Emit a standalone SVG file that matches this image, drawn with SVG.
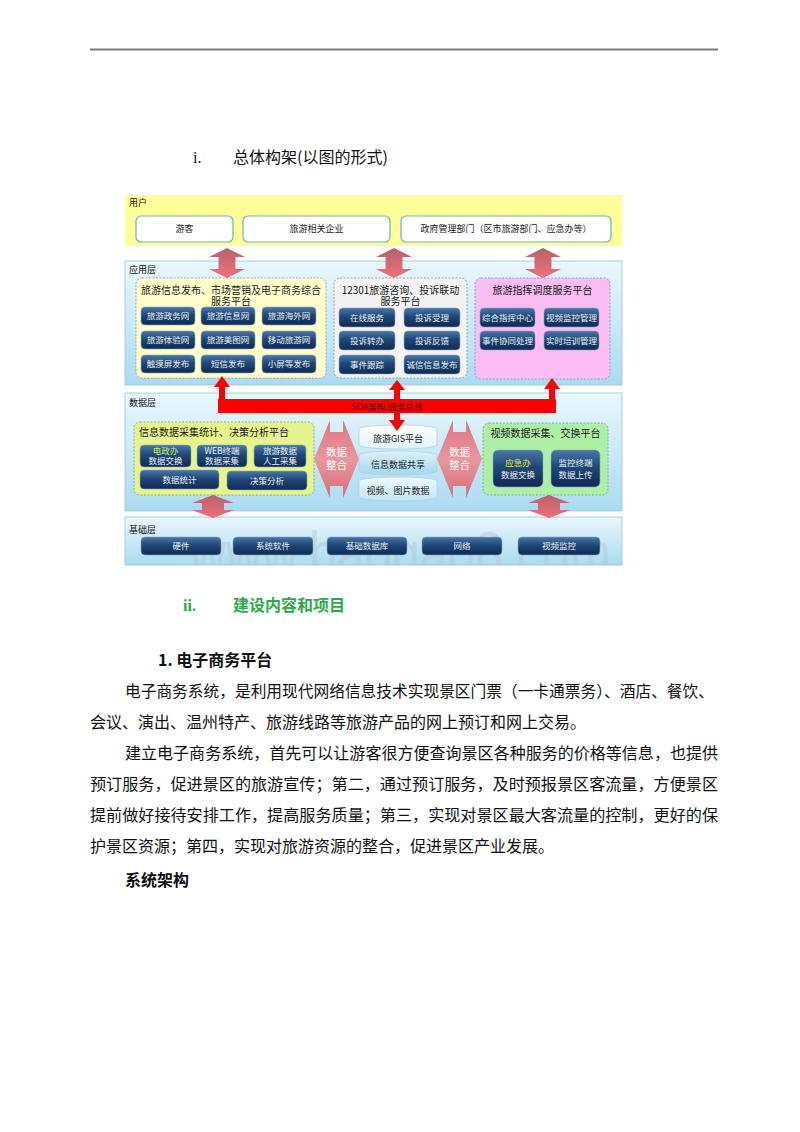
<svg xmlns="http://www.w3.org/2000/svg" width="800" height="1132" viewBox="0 0 800 1132">
<defs>
<style>
.cjk{font-family:"Noto Sans CJK SC","Noto Sans",sans-serif}
.lbl{font-family:"Noto Sans CJK SC",sans-serif;font-size:9px;fill:#111}
.ut{font-family:"Noto Sans CJK SC",sans-serif;font-size:9px;fill:#222;text-anchor:middle}
.pt{font-family:"Noto Sans CJK SC",sans-serif;font-size:10px;fill:#1a1a1a;text-anchor:middle}
.b{fill:url(#gBtn);stroke:#8fa6bf;stroke-width:0.6}
.bt{font-family:"Noto Sans CJK SC",sans-serif;font-size:8.5px;fill:#e9eef4;text-anchor:middle}
.band{fill:url(#gBand);stroke:#9cc3d6;stroke-width:0.8}
.ubox{fill:#ffffff;stroke:#6fb2b8;stroke-width:1.2}
.pan{stroke:#7f98b0;stroke-width:0.8;stroke-dasharray:2 1.5}
.body{font-family:"Noto Sans CJK SC",sans-serif;font-size:16px;fill:#111}
.cyl{stroke:#a9d2e4;stroke-width:0.8}
.ht{font-family:"Noto Sans CJK SC",sans-serif;font-size:10.5px;fill:#ffffff;text-anchor:middle}
.ct{font-family:"Noto Sans CJK SC",sans-serif;font-size:9px;fill:#222;text-anchor:middle}
</style>
<linearGradient id="gBand" x1="0" y1="0" x2="0" y2="1"><stop offset="0" stop-color="#eaf7fd"/><stop offset="1" stop-color="#aadbf1"/></linearGradient>
<linearGradient id="gBtn" x1="0" y1="0" x2="0" y2="1"><stop offset="0" stop-color="#4a77a6"/><stop offset="0.45" stop-color="#1f4878"/><stop offset="1" stop-color="#0e2a52"/></linearGradient>
<linearGradient id="gArr" x1="0" y1="0" x2="0" y2="1"><stop offset="0" stop-color="#b3646c"/><stop offset="1" stop-color="#f2707a"/></linearGradient>
<linearGradient id="gHArr" x1="0" y1="0" x2="0" y2="1"><stop offset="0" stop-color="#df7480"/><stop offset="0.5" stop-color="#e9969d"/><stop offset="1" stop-color="#d96c78"/></linearGradient>
<linearGradient id="gC1" x1="0" y1="0" x2="0" y2="1"><stop offset="0" stop-color="#ffffff"/><stop offset="1" stop-color="#e2f2f9"/></linearGradient>
<linearGradient id="gC2" x1="0" y1="0" x2="0" y2="1"><stop offset="0" stop-color="#dcf2fb"/><stop offset="1" stop-color="#a3d8ef"/></linearGradient>
<linearGradient id="gC3" x1="0" y1="0" x2="0" y2="1"><stop offset="0" stop-color="#eef9fd"/><stop offset="1" stop-color="#c2e6f5"/></linearGradient>
<path id="dv" d="M0,0 L18,9 L8.5,9 L8.5,21 L18,21 L0,30 L-18,21 L-8.5,21 L-8.5,9 L-18,9 Z"/>
<path id="dv2" d="M0,0 L21,8 L11,8 L11,15 L21,15 L0,23 L-21,15 L-11,15 L-11,8 L-21,8 Z"/>
<path id="dh" d="M0,39 L16,0 L16,12 L29,12 L29,0 L45,39 L29,78 L29,66 L16,66 L16,78 Z"/>
<clipPath id="clipBase"><rect x="125" y="517" width="497" height="48"/></clipPath>
</defs>

<rect width="800" height="1132" fill="#ffffff"/>
<line x1="90" y1="49.5" x2="718" y2="49.5" stroke="#7a7a7a" stroke-width="2"/>

<text x="193" y="163" font-family="Liberation Serif,serif" font-size="16" fill="#111">i.</text>
<text x="233" y="163" class="cjk" font-size="16" fill="#111">总体构架(以图的形式)</text>

<!-- layers -->
<g id="layer-user">
<rect x="125" y="195" width="497" height="51" fill="#ffff99"/>
<text x="129" y="206" class="lbl">用户</text>
</g>
<g id="layer-app">
<rect x="125" y="261" width="497" height="124" class="band"/>
<text x="129" y="273" class="lbl">应用层</text>
</g>
<g id="layer-data">
<rect x="125" y="393" width="497" height="118" class="band"/>
<text x="129" y="406" class="lbl">数据层</text>
</g>
<g id="layer-base">
<rect x="125" y="517" width="497" height="48" class="band"/>
<text x="129" y="533" class="lbl">基础层</text>
<text x="190" y="574" font-family="Liberation Sans,sans-serif" font-size="62" fill="#b8c4cc" fill-opacity="0.45" textLength="421" lengthAdjust="spacingAndGlyphs" clip-path="url(#clipBase)">www.baogao8.com</text>
</g>

<!-- user nodes -->
<g id="user-tourist"><rect x="136" y="216" width="97" height="26" rx="5" class="ubox"/><text x="184.5" y="232" class="ut">游客</text></g>
<g id="user-enterprise"><rect x="243" y="216" width="147" height="26" rx="5" class="ubox"/><text x="316.5" y="232" class="ut">旅游相关企业</text></g>
<g id="user-gov"><rect x="401" y="216" width="210" height="26" rx="5" class="ubox"/><text x="506" y="232" class="ut">政府管理部门（区市旅游部门、应急办等）</text></g>

<!-- app panels -->
<g id="app-ecommerce">
<rect x="136" y="278" width="190" height="100" rx="6" fill="#ffffcc" class="pan"/>
<text x="231" y="294" class="pt">旅游信息发布、市场营销及电子商务综合</text>
<text x="231" y="305" class="pt">服务平台</text>
<rect x="141" y="307" width="54" height="18" rx="4" class="b"/><text x="168" y="319" class="bt">旅游政务网</text>
<rect x="201" y="307" width="54" height="18" rx="4" class="b"/><text x="228" y="319" class="bt">旅游信息网</text>
<rect x="262" y="307" width="54" height="18" rx="4" class="b"/><text x="289" y="319" class="bt">旅游海外网</text>
<rect x="141" y="331" width="54" height="18" rx="4" class="b"/><text x="168" y="343" class="bt">旅游体验网</text>
<rect x="201" y="331" width="54" height="18" rx="4" class="b"/><text x="228" y="343" class="bt">旅游美图网</text>
<rect x="262" y="331" width="54" height="18" rx="4" class="b"/><text x="289" y="343" class="bt">移动旅游网</text>
<rect x="141" y="355" width="54" height="18" rx="4" class="b"/><text x="168" y="367" class="bt">触摸屏发布</text>
<rect x="201" y="355" width="54" height="18" rx="4" class="b"/><text x="228" y="367" class="bt">短信发布</text>
<rect x="262" y="355" width="54" height="18" rx="4" class="b"/><text x="289" y="367" class="bt">小屏等发布</text>
</g>

<g id="app-12301">
<rect x="334" y="278" width="133" height="100" rx="6" fill="#f3f3f3" class="pan"/>
<text x="400.5" y="294" class="pt">12301旅游咨询、投诉联动</text>
<text x="400.5" y="305" class="pt">服务平台</text>
<rect x="339" y="308" width="56" height="19" rx="4" class="b"/><text x="367" y="320.5" class="bt">在线服务</text>
<rect x="404" y="308" width="56" height="19" rx="4" class="b"/><text x="432" y="320.5" class="bt">投诉受理</text>
<rect x="339" y="331" width="56" height="19" rx="4" class="b"/><text x="367" y="343.5" class="bt">投诉转办</text>
<rect x="404" y="331" width="56" height="19" rx="4" class="b"/><text x="432" y="343.5" class="bt">投诉反馈</text>
<rect x="339" y="355" width="56" height="19" rx="4" class="b"/><text x="367" y="367.5" class="bt">事件跟踪</text>
<rect x="404" y="355" width="56" height="19" rx="4" class="b"/><text x="432" y="367.5" class="bt">诚信信息发布</text>
</g>

<g id="app-command">
<rect x="475" y="278" width="135" height="101" rx="6" fill="#fbbdf3" class="pan"/>
<text x="542.5" y="294" class="pt">旅游指挥调度服务平台</text>
<rect x="480" y="308" width="55" height="19" rx="4" class="b"/><text x="507.5" y="320.5" class="bt">综合指挥中心</text>
<rect x="544" y="308" width="55" height="19" rx="4" class="b"/><text x="571.5" y="320.5" class="bt">视频监控管理</text>
<rect x="480" y="331" width="55" height="19" rx="4" class="b"/><text x="507.5" y="343.5" class="bt">事件协同处理</text>
<rect x="544" y="331" width="55" height="19" rx="4" class="b"/><text x="571.5" y="343.5" class="bt">实时培训管理</text>
</g>

<!-- data panels -->
<g id="data-analysis">
<rect x="134" y="422" width="180" height="73" rx="6" fill="#e6f48c" class="pan"/>
<text x="214" y="436" class="pt">信息数据采集统计、决策分析平台</text>
<rect x="140" y="445" width="51" height="22" rx="4" class="b"/><text x="165.5" y="454" class="bt" style="fill:#c9e87a">电政办</text><text x="165.5" y="464" class="bt">数据交换</text>
<rect x="197" y="445" width="50" height="22" rx="4" class="b"/><text x="222" y="454" class="bt">WEB终端</text><text x="222" y="464" class="bt">数据采集</text>
<rect x="254" y="445" width="52" height="22" rx="4" class="b"/><text x="280" y="454" class="bt">旅游数据</text><text x="280" y="464" class="bt">人工采集</text>
<rect x="140" y="470" width="79" height="19" rx="4" class="b"/><text x="179.5" y="482.5" class="bt">数据统计</text>
<rect x="227" y="471" width="80" height="19" rx="4" class="b"/><text x="267" y="483.5" class="bt">决策分析</text>
</g>

<g id="data-merge-left">
<use href="#dh" x="314" y="420" fill="url(#gHArr)"/>
<text x="336.5" y="456" class="ht">数据</text>
<text x="336.5" y="469" class="ht">整合</text>
</g>

<g id="data-gis">
<path d="M359,429 A39,4 0 0 1 437,429 L437,445 A39,4 0 0 1 359,445 Z" fill="url(#gC1)" class="cyl"/>
<text x="398" y="442" class="ct">旅游GIS平台</text>
</g>
<g id="data-share">
<path d="M359,455 A39,4 0 0 1 437,455 L437,471 A39,4 0 0 1 359,471 Z" fill="url(#gC2)" class="cyl"/>
<text x="398" y="468" class="ct">信息数据共享</text>
</g>
<g id="data-media">
<path d="M359,481 A39,4 0 0 1 437,481 L437,497 A39,4 0 0 1 359,497 Z" fill="url(#gC3)" class="cyl"/>
<text x="398" y="494" class="ct">视频、图片数据</text>
</g>

<g id="data-merge-right">
<use href="#dh" x="437" y="420" fill="url(#gHArr)"/>
<text x="459.5" y="456" class="ht">数据</text>
<text x="459.5" y="469" class="ht">整合</text>
</g>

<g id="data-video">
<rect x="483" y="423" width="125" height="72" rx="6" fill="#aeefa6" class="pan"/>
<text x="545.5" y="437" class="pt">视频数据采集、交换平台</text>
<rect x="493" y="450" width="50" height="37" rx="5" class="b"/><text x="518" y="466" class="bt" style="fill:#f2e640">应急办</text><text x="518" y="478" class="bt">数据交换</text>
<rect x="551" y="450" width="49" height="37" rx="5" class="b"/><text x="575.5" y="466" class="bt">监控终端</text><text x="575.5" y="478" class="bt">数据上传</text>
</g>

<!-- base nodes -->
<g id="base-hw"><rect x="141" y="537" width="80" height="18" rx="4" class="b"/><text x="181" y="549" class="bt">硬件</text></g>
<g id="base-sw"><rect x="233" y="537" width="80" height="18" rx="4" class="b"/><text x="273" y="549" class="bt">系统软件</text></g>
<g id="base-db"><rect x="327" y="537" width="80" height="18" rx="4" class="b"/><text x="367" y="549" class="bt">基础数据库</text></g>
<g id="base-net"><rect x="422" y="537" width="80" height="18" rx="4" class="b"/><text x="462" y="549" class="bt">网络</text></g>
<g id="base-video"><rect x="518" y="537" width="82" height="18" rx="4" class="b"/><text x="559" y="549" class="bt">视频监控</text></g>

<!-- connectors -->
<g id="connectors">
<use href="#dv" x="227" y="248" fill="url(#gArr)"/>
<use href="#dv" x="394" y="248" fill="url(#gArr)"/>
<use href="#dv" x="543" y="248" fill="url(#gArr)"/>
<use href="#dv2" x="213" y="495" fill="url(#gArr)"/>
<use href="#dv2" x="549" y="495" fill="url(#gArr)"/>
<g id="soa-bus" fill="#ff0000">
<rect x="218" y="399" width="338" height="14"/>
<rect x="219" y="385" width="6" height="16"/>
<polygon points="222,376 230,387 214,387"/>
<rect x="394" y="388" width="6" height="12"/>
<polygon points="397,380 405,390 389,390"/>
<rect x="394" y="412" width="6" height="9"/>
<polygon points="397,431 405,420 389,420"/>
<rect x="549" y="386" width="6" height="15"/>
<polygon points="552,378 560,389 544,389"/>
</g>
<text x="387" y="409.5" class="cjk" font-size="8.5" fill="#4a0808" text-anchor="middle">SOA架构/服务总线</text>
</g>

<!-- text below -->
<text x="183" y="611" font-family="Liberation Serif,serif" font-size="16" font-weight="bold" fill="#2ea94b">ii.</text>
<text x="233" y="611" class="cjk" font-size="16" font-weight="bold" fill="#2ea94b">建设内容和项目</text>
<text x="158" y="666" class="cjk" font-size="16" font-weight="bold" fill="#111">1. 电子商务平台</text>
<text x="125" y="697" class="body" textLength="589" lengthAdjust="spacingAndGlyphs">电子商务系统，是利用现代网络信息技术实现景区门票（一卡通票务）、酒店、餐饮、</text>
<text x="90" y="728" class="body">会议、演出、温州特产、旅游线路等旅游产品的网上预订和网上交易。</text>
<text x="125" y="759" class="body" textLength="593" lengthAdjust="spacingAndGlyphs">建立电子商务系统，首先可以让游客很方便查询景区各种服务的价格等信息，也提供</text>
<text x="90" y="790" class="body" textLength="628" lengthAdjust="spacingAndGlyphs">预订服务，促进景区的旅游宣传；第二，通过预订服务，及时预报景区客流量，方便景区</text>
<text x="90" y="821" class="body" textLength="628" lengthAdjust="spacingAndGlyphs">提前做好接待安排工作，提高服务质量；第三，实现对景区最大客流量的控制，更好的保</text>
<text x="90" y="852" class="body">护景区资源；第四，实现对旅游资源的整合，促进景区产业发展。</text>
<text x="125" y="886" class="cjk" font-size="16" font-weight="bold" fill="#111">系统架构</text>
</svg>
